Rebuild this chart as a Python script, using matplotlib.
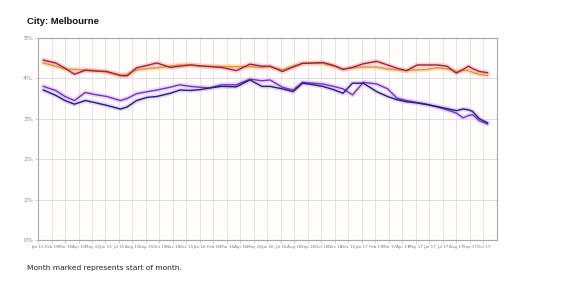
import matplotlib
matplotlib.use("Agg")
import matplotlib.pyplot as plt
import numpy as np

# months since start of chart (Jan 15)
months = [0.4, 1.3, 2.0, 2.7, 3.5, 4.2, 5.1, 6.1, 6.6, 7.3, 8.1, 8.8, 9.8, 10.5, 11.3,
          12.0, 12.7, 13.6, 14.7, 15.7, 16.6, 17.2, 18.1, 18.9, 19.6, 20.4, 21.1, 21.9,
          22.6, 23.3, 24.1, 25.1, 25.9, 26.6, 27.3, 28.1, 28.8, 29.6, 30.3, 31.0, 31.5,
          31.9, 32.2, 32.7, 33.3]

red = [4.45, 4.38, 4.25, 4.10, 4.20, 4.18, 4.17, 4.07, 4.06, 4.26, 4.32, 4.38, 4.27, 4.30, 4.33,
       4.31, 4.29, 4.27, 4.19, 4.35, 4.30, 4.30, 4.17, 4.28, 4.37, 4.38, 4.39, 4.32,
       4.22, 4.27, 4.36, 4.42, 4.33, 4.25, 4.19, 4.33, 4.33, 4.33, 4.30, 4.13, 4.22,
       4.30, 4.24, 4.17, 4.14]
orange = [4.38, 4.30, 4.23, 4.22, 4.21, 4.20, 4.15, 4.08, 4.10, 4.21, 4.24, 4.26, 4.30, 4.33, 4.33,
          4.30, 4.30, 4.29, 4.29, 4.29, 4.27, 4.29, 4.21, 4.30, 4.37, 4.37, 4.37, 4.30,
          4.23, 4.26, 4.28, 4.28, 4.23, 4.21, 4.19, 4.21, 4.22, 4.26, 4.24, 4.17, 4.20,
          4.19, 4.15, 4.10, 4.07]
navy = [3.71, 3.58, 3.45, 3.36, 3.45, 3.40, 3.33, 3.24, 3.29, 3.45, 3.53, 3.55, 3.63, 3.71, 3.70,
        3.72, 3.76, 3.80, 3.79, 3.96, 3.80, 3.80, 3.74, 3.67, 3.88, 3.84, 3.80, 3.72,
        3.63, 3.88, 3.88, 3.67, 3.55, 3.47, 3.42, 3.39, 3.35, 3.30, 3.25, 3.20, 3.24,
        3.22, 3.18, 3.00, 2.90]
purple = [3.80, 3.70, 3.55, 3.45, 3.65, 3.60, 3.55, 3.45, 3.50, 3.62, 3.67, 3.71, 3.78, 3.84, 3.80,
          3.78, 3.76, 3.84, 3.84, 3.98, 3.94, 3.96, 3.78, 3.71, 3.90, 3.88, 3.86, 3.80,
          3.74, 3.59, 3.90, 3.86, 3.74, 3.51, 3.45, 3.40, 3.36, 3.29, 3.22, 3.14, 3.02,
          3.08, 3.10, 2.95, 2.87]

tick_labels = [f"{m} {y}" for y in (15, 16, 17)
               for m in ["Jan", "Feb", "Mar", "Apr", "May", "Jun",
                         "Jul", "Aug", "Sep", "Oct", "Nov", "Dec"]][:34]

fig = plt.figure(figsize=(5.64, 2.85), dpi=100)
ax = fig.add_axes([0.0674, 0.158, 0.8136, 0.709])

series = [
    (orange, "#e8903a", "#f7d2a8"),
    (red, "#a3202e", "#f0b8c0"),
    (purple, "#7030d0", "#e2c4f2"),
    (navy, "#2b1a70", "#cfc4ee"),
]
for vals, col, glow in series:
    ax.plot(months, vals, color=glow, lw=3.5, alpha=0.6, solid_capstyle="round")
for vals, col, glow in series:
    ax.plot(months, vals, color=col, lw=1.0)

ax.set_xlim(0, 34)
ax.set_ylim(0, 5)
ax.set_xticks(np.arange(len(tick_labels)))
ax.set_xticklabels(tick_labels, fontsize=3, color="#777777")
ax.set_yticks([0, 1, 2, 3, 4, 5])
ax.set_yticklabels([f"{v}%" for v in range(6)], fontsize=4.5, color="#888888")
ax.tick_params(length=2, width=0.4, color="#aaaaaa", pad=1.5)
ax.grid(axis="x", color="#e8e2e2", lw=0.7)
ax.grid(axis="y", color="#e0dcdc", lw=0.7)
ax.set_axisbelow(True)
ax.set_facecolor("#fffdfc")
for s in ax.spines.values():
    s.set_color("#a8a8a8")
    s.set_linewidth(0.8)

fig.text(27 / 564, 1 - 22 / 285, "City: Melbourne", fontsize=6.8, fontweight="bold",
         family="Liberation Sans", va="center", ha="left", color="#111111")
fig.text(27 / 564, 1 - 268 / 285, "Month marked represents start of month.", fontsize=5.4,
         va="center", ha="left", color="#222222")

fig.savefig("out.png", dpi=100)
